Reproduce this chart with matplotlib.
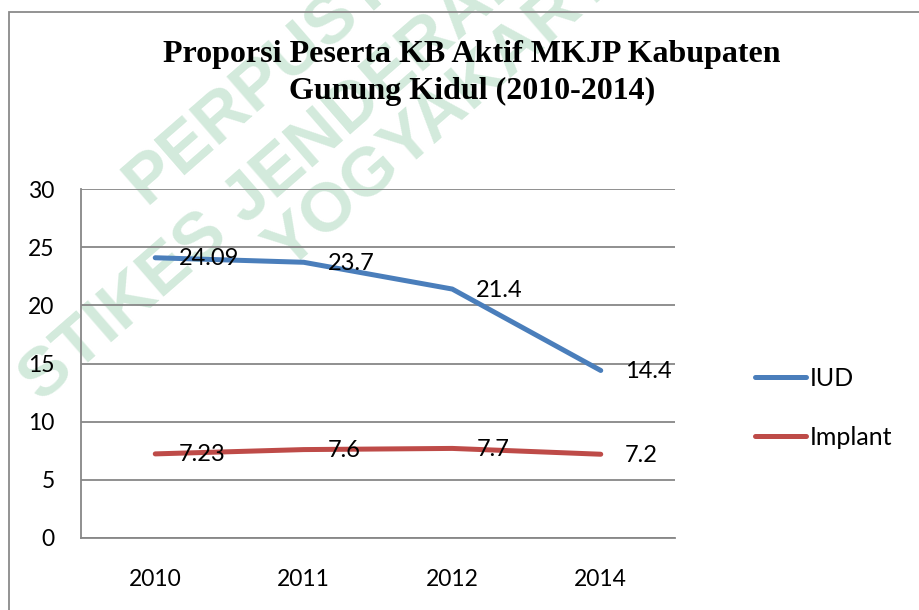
import matplotlib
matplotlib.use("Agg")
import matplotlib.pyplot as plt
from matplotlib.patches import Rectangle

years = ["2010", "2011", "2012", "2014"]
iud = [24.09, 23.7, 21.4, 14.4]
implant = [7.23, 7.6, 7.7, 7.2]
iud_labels = ["24.09", "23.7", "21.4", "14.4"]
implant_labels = ["7.23", "7.6", "7.7", "7.2"]
yticks = [0, 5, 10, 15, 20, 25, 30]
title = "Proporsi Peserta KB Aktif MKJP Kabupaten\nGunung Kidul (2010-2014)"

W, H = 919, 610
fig = plt.figure(figsize=(W / 100, H / 100), dpi=100)
fig.patch.set_facecolor("white")

def fx(px):
    return px / W

def fy(py):
    return 1 - py / H

# watermark
wm_color = "#d3eadc"
wm_kw = dict(rotation=41, rotation_mode="anchor", ha="left", va="center",
             fontsize=50, fontweight="bold", color=wm_color, family="Liberation Sans", zorder=-5)
fig.text(fx(134), fy(192), "PERPUSTAKAAN", **wm_kw)
fig.text(fx(30), fy(390), "STIKES JENDERAL ACHMAD YANI", **wm_kw)
fig.text(fx(276), fy(258), "YOGYAKARTA", **wm_kw)

# figure border
fig.patches.append(Rectangle((fx(9), -0.1), 1.2, fy(12) + 0.1, transform=fig.transFigure,
                             fill=False, edgecolor="#8a8a8a", linewidth=1.3, zorder=1))

ax = fig.add_axes([fx(81), fy(538), fx(675) - fx(81), (538 - 189) / H])
ax.set_facecolor("none")
x = list(range(len(years)))
grid_c = "#878787"
ax.set_xlim(-0.5, len(years) - 0.5)
ax.set_ylim(0, 30)
ax.set_yticks(yticks)
ax.set_xticks(x)
ax.set_xticklabels(years)
ax.yaxis.grid(True, color=grid_c, linewidth=1.3)
ax.set_axisbelow(True)
for s in ["top", "right"]:
    ax.spines[s].set_visible(False)
for s in ["left", "bottom"]:
    ax.spines[s].set_color(grid_c)
    ax.spines[s].set_linewidth(1.3)
tick_font = "Lato"
ax.tick_params(axis="both", length=0, labelsize=16.5)
ax.tick_params(axis="y", pad=19)
ax.tick_params(axis="x", pad=22)
for lab in ax.get_xticklabels() + ax.get_yticklabels():
    lab.set_family(tick_font)

blue = "#4a7ebb"
red = "#be4b48"
ax.plot(x, iud, color=blue, linewidth=3.6, solid_capstyle="round", solid_joinstyle="round", label="IUD", zorder=3)
ax.plot(x, implant, color=red, linewidth=3.6, solid_capstyle="round", solid_joinstyle="round", label="Implant", zorder=3)

for xi, v, t in zip(x, iud, iud_labels):
    ax.annotate(t, (xi, v), xytext=(24, -1), textcoords="offset pixels", ha="left", va="center",
                fontsize=17, family=tick_font, zorder=4)
for xi, v, t in zip(x, implant, implant_labels):
    ax.annotate(t, (xi, v), xytext=(24, -1), textcoords="offset pixels", ha="left", va="center",
                fontsize=17, family=tick_font, zorder=4)

leg = fig.legend(loc="center left", bbox_to_anchor=(fx(755), fy(408)), frameon=False,
                 prop={"family": tick_font, "size": 18}, handlelength=2.05, handletextpad=0.15,
                 labelspacing=1.45, borderpad=0, borderaxespad=0)

fig.text(fx(472), fy(73), title, ha="center", va="center", family="Liberation Serif",
         fontweight="bold", fontsize=23, linespacing=1.38)

fig.savefig("out.png", dpi=100)
